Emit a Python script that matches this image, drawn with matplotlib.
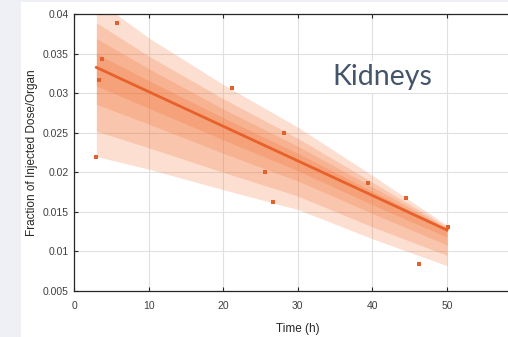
import matplotlib
matplotlib.use('Agg')
import matplotlib.pyplot as plt
from matplotlib.patches import Rectangle

# measured points (time in h, fraction of injected dose per organ)
time_h = [2.9, 3.4, 3.7, 5.7, 21.2, 25.6, 26.7, 28.2, 39.4, 44.5, 46.3, 50.1]
dose_frac = [0.0219, 0.0316, 0.0343, 0.0388, 0.0306, 0.0200, 0.0162, 0.0250,
             0.0186, 0.0168, 0.0084, 0.0131]

# regression line
fit_x = [3, 50]
fit_y = [0.03325, 0.0127]

# nested prediction bands, outer -> inner
band_x = [3, 10, 20, 30, 40, 50]
band_upper = [
    [0.0418, 0.0370, 0.0311, 0.0257, 0.0196, 0.0133],
    [0.0389, 0.0347, 0.0293, 0.0243, 0.01875, 0.0131],
    [0.0369, 0.0331, 0.0280, 0.0233, 0.01815, 0.01295],
    [0.0350, 0.0316, 0.0269, 0.0224, 0.0176, 0.0128],
]
band_lower = [
    [0.0220, 0.0204, 0.0178, 0.0153, 0.0116, 0.0082],
    [0.0252, 0.0231, 0.0200, 0.0170, 0.0131, 0.0095],
    [0.0286, 0.0261, 0.0224, 0.0189, 0.0148, 0.0108],
    [0.0309, 0.0281, 0.0241, 0.0202, 0.0159, 0.0118],
]

x_ticks = [0, 10, 20, 30, 40, 50]
y_ticks = [0.005, 0.01, 0.015, 0.02, 0.025, 0.03, 0.035, 0.04]
y_ticklabels = ['0.005', '0.01', '0.015', '0.02', '0.025', '0.03', '0.035', '0.04']

W, H = 508, 337
fig = plt.figure(figsize=(W / 100, H / 100), dpi=100, facecolor='#eef0f5')
# white slide panel behind the chart
fig.patches.append(Rectangle((21 / W, 0), 1, 1 - 2 / H, transform=fig.transFigure,
                             facecolor='white', edgecolor='none', zorder=-5))

ax = fig.add_axes([74 / W, 1 - 291 / H, 447.6 / W, 277 / H])
ax.set_zorder(2)
ax.set_facecolor('white')

for lo, up in zip(band_lower, band_upper):
    ax.fill_between(band_x, lo, up, color='#f26b2a', alpha=0.21, linewidth=0, zorder=2)

ax.plot(fit_x, fit_y, color='#e8612a', lw=2, zorder=3)
ax.plot(time_h, dose_frac, 's', color='#e2602c', ms=2.6, mew=0, zorder=4)

ax.set_xlim(0, 60)
ax.set_ylim(0.005, 0.04)
ax.set_xticks(x_ticks)
ax.set_yticks(y_ticks)
ax.set_yticklabels(y_ticklabels)
ax.grid(True, color='#e0e0e0', lw=0.8, zorder=0)
ax.set_axisbelow(True)

for s in ['left', 'bottom', 'top', 'right']:
    ax.spines[s].set_color('#262626')
    ax.spines[s].set_linewidth(0.9)

ax.tick_params(direction='in', top=True, right=True, length=3, width=0.8,
               colors='#262626', labelcolor='#404040', labelsize=7.5)
ax.tick_params(axis='x', pad=7)
ax.tick_params(axis='y', pad=4)
for lab in ax.get_xticklabels() + ax.get_yticklabels():
    lab.set_family('Liberation Sans')

ax.set_xlabel('Time (h)', family='Liberation Sans', fontsize=8.5, color='#262626', labelpad=9)
ax.set_ylabel('Fraction of Injected Dose/Organ', family='Liberation Sans', fontsize=8.5,
              color='#262626', labelpad=3)

fig.text(382 / W, 1 - 77 / H, 'Kidneys', family='Lato', fontsize=20.5, color='#44546a',
         ha='center', va='center', zorder=10,
         bbox=dict(facecolor='white', edgecolor='none', pad=2))

fig.savefig('out.png', dpi=100, facecolor=fig.get_facecolor())
